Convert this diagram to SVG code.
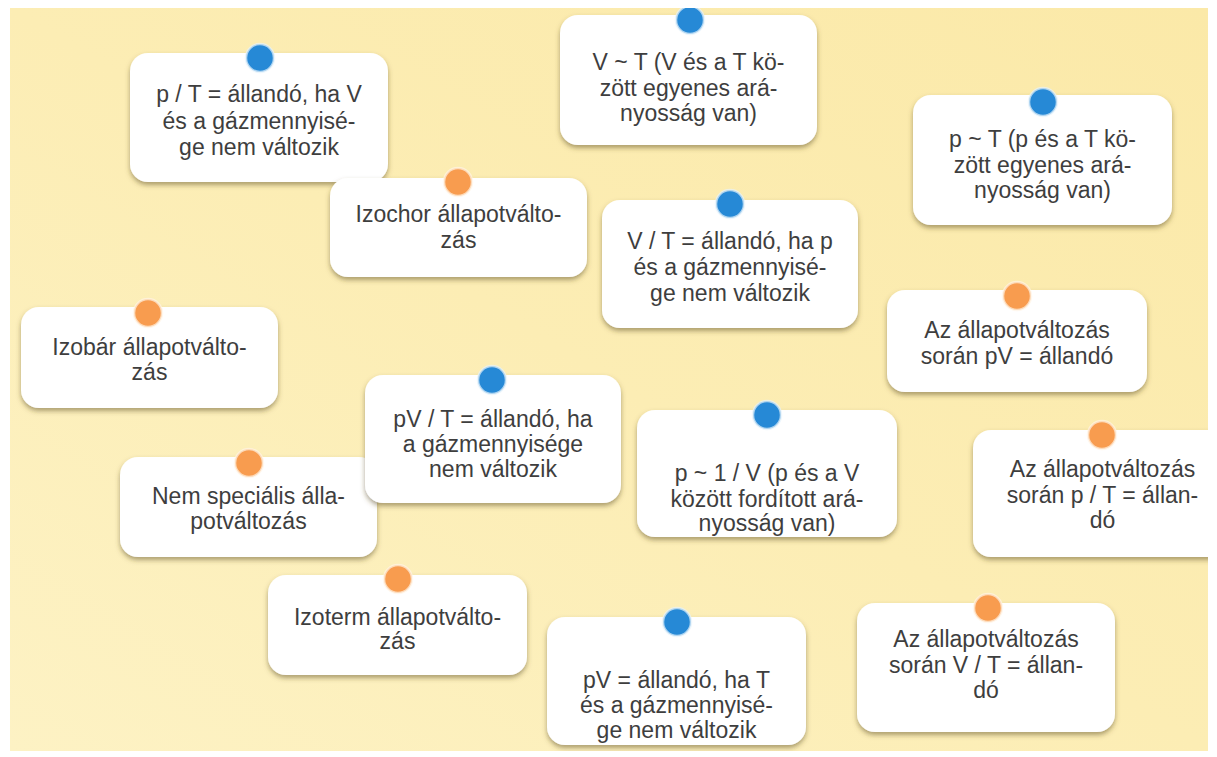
<svg xmlns="http://www.w3.org/2000/svg" width="1217" height="757" viewBox="0 0 1217 757">
<defs>
<linearGradient id="bg" x1="0" y1="1" x2="1" y2="0">
<stop offset="0" stop-color="#fdf2c4"/>
<stop offset="0.5" stop-color="#fcedb4"/>
<stop offset="1" stop-color="#fbe9a8"/>
</linearGradient>
<filter id="shadow" x="-10%" y="-10%" width="120%" height="130%">
<feDropShadow dx="0" dy="3" stdDeviation="2.5" flood-color="#5a4a20" flood-opacity="0.5"/>
</filter>
<filter id="glow" x="-50%" y="-50%" width="200%" height="200%">
<feGaussianBlur in="SourceGraphic" stdDeviation="1.2"/>
</filter>
<clipPath id="frame"><rect x="10" y="8" width="1198" height="743"/></clipPath>
</defs>
<style>
.card{fill:#ffffff;filter:url(#shadow)}
.t{font-family:"Liberation Sans",Arial,sans-serif;font-size:23px;fill:#3e3e3e;text-anchor:middle}
.blue{fill:#2689d6;stroke:#e6f2fb;stroke-opacity:0.7;stroke-width:2.5}
.orange{fill:#f89c4f;stroke:#fff3e6;stroke-opacity:0.7;stroke-width:2.5}
</style>
<rect x="0" y="0" width="1217" height="757" fill="#ffffff"/>
<rect x="10" y="8" width="1198" height="743" fill="url(#bg)"/>
<g id="connectors"/>
<g clip-path="url(#frame)">
<g id="n1">
<rect class="card" x="130" y="53" width="258" height="129" rx="18"/>
<circle class="blue" cx="260" cy="58" r="14"/>
<text class="t" x="259" y="102">p / T = állandó, ha V</text>
<text class="t" x="259" y="128.5">és a gázmennyisé-</text>
<text class="t" x="259" y="155">ge nem változik</text>
</g>
<g id="n2">
<rect class="card" x="330" y="178" width="257" height="99" rx="18"/>
<circle class="orange" cx="458" cy="182" r="14"/>
<text class="t" x="458.5" y="222">Izochor állapotválto-</text>
<text class="t" x="458.5" y="248">zás</text>
</g>
<g id="n3">
<rect class="card" x="560" y="15" width="257" height="130" rx="18"/>
<circle class="blue" cx="690" cy="20" r="14"/>
<text class="t" x="688.5" y="70">V ~ T (V és a T kö-</text>
<text class="t" x="688.5" y="95.5">zött egyenes ará-</text>
<text class="t" x="688.5" y="121">nyosság van)</text>
</g>
<g id="n4">
<rect class="card" x="602" y="200" width="256" height="128" rx="18"/>
<circle class="blue" cx="730" cy="204" r="14"/>
<text class="t" x="730" y="249">V / T = állandó, ha p</text>
<text class="t" x="730" y="275">és a gázmennyisé-</text>
<text class="t" x="730" y="300.5">ge nem változik</text>
</g>
<g id="n5">
<rect class="card" x="913" y="95" width="259" height="130" rx="18"/>
<circle class="blue" cx="1043" cy="102" r="14"/>
<text class="t" x="1042.5" y="147">p ~ T (p és a T kö-</text>
<text class="t" x="1042.5" y="172.5">zött egyenes ará-</text>
<text class="t" x="1042.5" y="198">nyosság van)</text>
</g>
<g id="n6">
<rect class="card" x="887" y="290" width="260" height="102" rx="18"/>
<circle class="orange" cx="1017" cy="296" r="14"/>
<text class="t" x="1017" y="338">Az állapotváltozás</text>
<text class="t" x="1017" y="363.5">során pV = állandó</text>
</g>
<g id="n7">
<rect class="card" x="21" y="307" width="257" height="101" rx="18"/>
<circle class="orange" cx="148" cy="313" r="14"/>
<text class="t" x="149.5" y="355">Izobár állapotválto-</text>
<text class="t" x="149.5" y="380">zás</text>
</g>
<g id="n8">
<rect class="card" x="120" y="457" width="257" height="100" rx="18"/>
<circle class="orange" cx="249" cy="463" r="14"/>
<text class="t" x="248.5" y="504">Nem speciális álla-</text>
<text class="t" x="248.5" y="529">potváltozás</text>
</g>
<g id="n9">
<rect class="card" x="365" y="375" width="256" height="128" rx="18"/>
<circle class="blue" cx="492" cy="380" r="14"/>
<text class="t" x="493" y="427">pV / T = állandó, ha</text>
<text class="t" x="493" y="452">a gázmennyisége</text>
<text class="t" x="493" y="477">nem változik</text>
</g>
<g id="n10">
<rect class="card" x="637" y="410" width="260" height="127" rx="18"/>
<circle class="blue" cx="767" cy="415" r="14"/>
<text class="t" x="767" y="481">p ~ 1 / V (p és a V</text>
<text class="t" x="767" y="506.5">között fordított ará-</text>
<text class="t" x="767" y="531">nyosság van)</text>
</g>
<g id="n11">
<rect class="card" x="268" y="575" width="259" height="100" rx="18"/>
<circle class="orange" cx="398" cy="579" r="14"/>
<text class="t" x="397.5" y="625">Izoterm állapotválto-</text>
<text class="t" x="397.5" y="649">zás</text>
</g>
<g id="n12">
<rect class="card" x="547" y="617" width="259" height="128" rx="18"/>
<circle class="blue" cx="677" cy="622" r="14"/>
<text class="t" x="676.5" y="688">pV = állandó, ha T</text>
<text class="t" x="676.5" y="713">és a gázmennyisé-</text>
<text class="t" x="676.5" y="738">ge nem változik</text>
</g>
<g id="n13">
<rect class="card" x="973" y="430" width="259" height="127" rx="18"/>
<circle class="orange" cx="1102" cy="435" r="14"/>
<text class="t" x="1102.5" y="477">Az állapotváltozás</text>
<text class="t" x="1102.5" y="503">során p / T = állan-</text>
<text class="t" x="1102.5" y="528">dó</text>
</g>
<g id="n14">
<rect class="card" x="857" y="603" width="258" height="129" rx="18"/>
<circle class="orange" cx="988" cy="608" r="14"/>
<text class="t" x="986" y="647">Az állapotváltozás</text>
<text class="t" x="986" y="672.5">során V / T = állan-</text>
<text class="t" x="986" y="698">dó</text>
</g>
</g>
</svg>
